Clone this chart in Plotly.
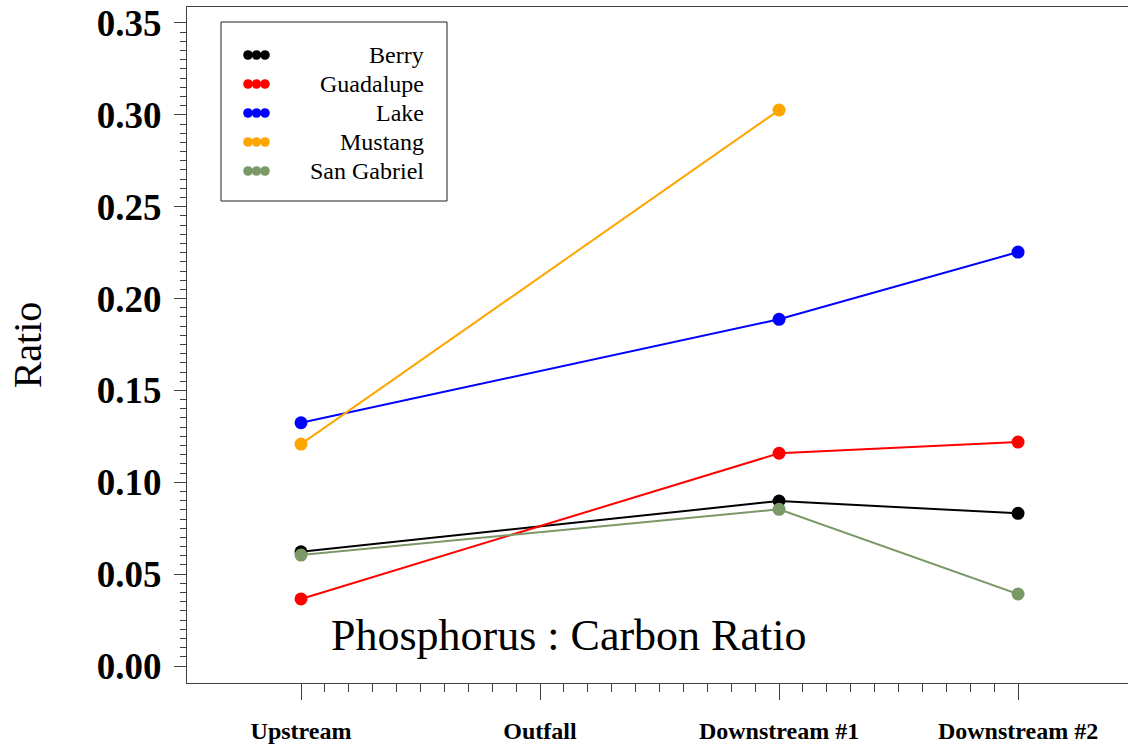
import plotly.graph_objects as go

# Sampling sites along the stream (x positions 1..4) and P:C ratios per river
sites = ["Upstream", "Outfall", "Downstream #1", "Downstream #2"]
site_pos = [1, 2, 3, 4]

berry = [0.0622, None, 0.0898, 0.0831]
guadalupe = [0.0365, None, 0.1158, 0.1219]
lake = [0.1324, None, 0.1887, 0.2253]
mustang = [0.1208, None, 0.3026, None]
san_gabriel = [0.0604, None, 0.0853, 0.0392]

rivers = ["Berry", "Guadalupe", "Lake", "Mustang", "San Gabriel"]
series = [berry, guadalupe, lake, mustang, san_gabriel]
colors = ["#000000", "#FF0000", "#0000FF", "#FFA500", "#7A9966"]

y_ticks = [0.00, 0.05, 0.10, 0.15, 0.20, 0.25, 0.30, 0.35]
y_minor = [i * 0.005 for i in range(71)]
x_minor = [1 + i * 0.1 for i in range(31)]

W, H = 1128, 750
ML, MR, MT, MB = 187, 0, 7, 67
PW, PH = W - ML - MR, H - MT - MB


def px_x(px):
    return (px - ML) / PW


def px_y(py):
    return (H - MB - py) / PH


SERIF = "Liberation Serif"
AXIS_COL = "#404040"

fig = go.Figure()
for name, vals, col in zip(rivers, series, colors):
    fig.add_trace(go.Scatter(
        x=site_pos, y=vals, name=name, mode="lines+markers",
        connectgaps=True,
        line=dict(color=col, width=2),
        marker=dict(color=col, size=13),
        showlegend=False, hoverinfo="skip",
    ))

# Hand-built legend: boxed, three dots per entry, right-aligned names
shapes = [dict(type="rect", xref="paper", yref="paper",
               x0=px_x(221), x1=px_x(447), y0=px_y(201), y1=px_y(22),
               line=dict(color="#202020", width=1), fillcolor="white", layer="above")]
annotations = []
legend_rows = [55, 84, 113, 142, 171]
for name, col, ry in zip(rivers, colors, legend_rows):
    for cx in (248, 256.5, 265):
        shapes.append(dict(type="circle", xref="paper", yref="paper",
                           xsizemode="pixel", ysizemode="pixel",
                           xanchor=px_x(cx), yanchor=px_y(ry),
                           x0=-4.8, x1=4.8, y0=-4.8, y1=4.8,
                           line=dict(width=0), fillcolor=col, layer="above"))
    annotations.append(dict(text=name, xref="paper", yref="paper",
                            x=px_x(426), y=px_y(ry), xanchor="right", yanchor="middle",
                            showarrow=False, font=dict(family=SERIF, size=24, color="black")))

annotations.append(dict(text="Phosphorus : Carbon Ratio", xref="paper", yref="paper",
                        x=px_x(329), y=px_y(635), xanchor="left", yanchor="middle",
                        showarrow=False, font=dict(family=SERIF, size=44, color="black")))

fig.update_layout(
    width=W, height=H,
    margin=dict(l=ML, r=MR, t=MT, b=MB, pad=0),
    paper_bgcolor="white", plot_bgcolor="white",
    showlegend=False,
    shapes=shapes, annotations=annotations,
    xaxis=dict(
        range=[0.523, 4.46], tickmode="array", tickvals=site_pos, ticktext=sites,
        showgrid=False, zeroline=False, showline=True, linecolor=AXIS_COL, linewidth=1,
        mirror=True, ticks="outside", ticklen=16, tickwidth=1, tickcolor=AXIS_COL,
        tickfont=dict(family=SERIF, size=24, color="black", weight="bold"),
        ticklabelstandoff=10,
        minor=dict(tickmode="array", tickvals=x_minor, ticks="outside", ticklen=8,
                   tickwidth=1, tickcolor=AXIS_COL, showgrid=False),
    ),
    yaxis=dict(
        range=[-0.00925, 0.3587], tickmode="array", tickvals=y_ticks,
        ticktext=[f"{v:.2f}" for v in y_ticks],
        showgrid=False, zeroline=False, showline=True, linecolor=AXIS_COL, linewidth=1,
        mirror=False, ticks="outside", ticklen=12, tickwidth=1, tickcolor=AXIS_COL,
        tickfont=dict(family=SERIF, size=37, color="black", weight="bold"),
        ticklabelstandoff=5,
        title=dict(text="Ratio", font=dict(family=SERIF, size=40, color="black"), standoff=42),
        minor=dict(tickmode="array", tickvals=y_minor, ticks="outside", ticklen=6,
                   tickwidth=1, tickcolor=AXIS_COL, showgrid=False),
    ),
)

fig.write_html("out.html")
